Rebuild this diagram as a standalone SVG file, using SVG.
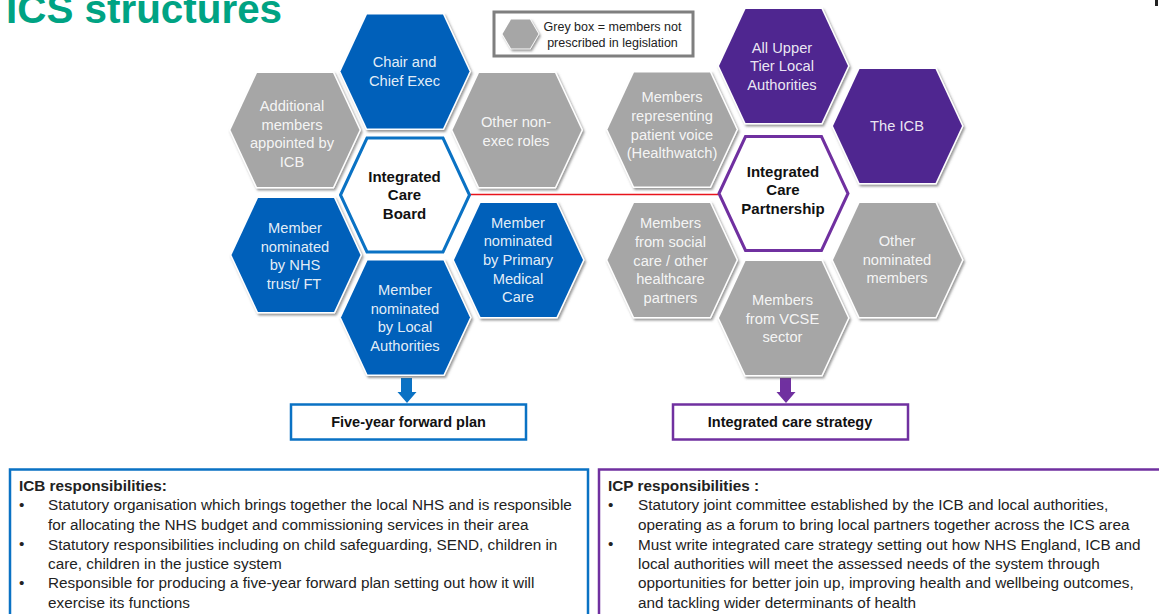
<svg xmlns="http://www.w3.org/2000/svg" width="1159" height="614" viewBox="0 0 1159 614">
<style>
text{font-family:"Liberation Sans",Arial,sans-serif}
.h{stroke:#fff;stroke-width:3;paint-order:stroke;filter:url(#s)}
.blue{fill:#0060BA}.grey{fill:#A6A6A6}.purple{fill:#4F2790}
.t{font-size:14.700px;fill:#fff;text-anchor:middle;fill-opacity:.9}
.b{font-size:15px;font-weight:bold;fill:#111;text-anchor:middle}
.p{font-size:15.300px;fill:#222}
.pb{font-size:15.300px;fill:#222;font-weight:bold}
</style>
<defs>
<polygon id="hex" points="-64.500,0 -38,-57 38,-57 64.500,0 38,57 -38,57"/>
<filter id="s" x="-15%" y="-15%" width="130%" height="130%"><feDropShadow dx="1.500" dy="2" stdDeviation="1.200" flood-color="#555" flood-opacity=".6"/></filter>
</defs>
<rect width="1159" height="614" fill="#fff"/>
<text x="6" y="23" font-size="40.400" font-weight="bold" fill="#00A383">ICS structures</text>
<rect x="1155" y="0" width="3" height="6" fill="#222"/>

<g id="connectors">
<line x1="470" y1="194.500" x2="718" y2="194.500" stroke="#E8141C" stroke-width="1.500"/>
<path d="M401,378h11v14h4.500l-9.500,11l-9.500,-11h3.500z" fill="#0A72C4"/>
<path d="M780,378h11v14h4.500l-9.500,11l-9.500,-11h3.500z" fill="#7030A0"/>
</g>

<g id="legend">
<rect x="494" y="12" width="199" height="44" fill="#fff" stroke="#7F7F7F" stroke-width="3"/>
<polygon points="502.500,34 511,19.500 530,19.500 538.500,34 530,48.500 511,48.500" class="grey h" style="stroke-width:1.500"/>
<text x="612.500" y="31" font-size="12.500" text-anchor="middle" fill="#222">Grey box = members not</text>
<text x="612.500" y="47" font-size="12.500" text-anchor="middle" fill="#222">prescribed in legislation</text>
</g>

<g id="chair"><use href="#hex" x="405" y="71.500" class="h blue"/><text class="t" x="404.500" y="67">Chair and</text><text class="t" x="404.500" y="86">Chief Exec</text></g>
<g id="additional"><use href="#hex" x="295" y="130" class="h grey"/><text class="t" x="292" y="111">Additional</text><text class="t" x="292" y="130">members</text><text class="t" x="292" y="148">appointed by</text><text class="t" x="292" y="167">ICB</text></g>
<g id="other-non-exec"><use href="#hex" x="517" y="130" class="h grey"/><text class="t" x="516" y="127">Other non-</text><text class="t" x="516" y="146">exec roles</text></g>
<g id="icb"><use href="#hex" x="405" y="195" fill="#fff" stroke="#0A72C4" stroke-width="3"/><text class="b" x="404.500" y="181.500">Integrated</text><text class="b" x="404.500" y="200">Care</text><text class="b" x="404.500" y="218.500">Board</text></g>
<g id="nhs"><use href="#hex" x="296" y="255" class="h blue"/><text class="t" x="295" y="233">Member</text><text class="t" x="295" y="252">nominated</text><text class="t" x="295" y="270">by NHS</text><text class="t" x="294" y="289">trust/ FT</text></g>
<g id="primary"><use href="#hex" x="518.500" y="260" class="h blue"/><text class="t" x="518" y="227.500">Member</text><text class="t" x="518" y="246">nominated</text><text class="t" x="518" y="265">by Primary</text><text class="t" x="518" y="283.500">Medical</text><text class="t" x="518" y="302">Care</text></g>
<g id="local"><use href="#hex" x="405.500" y="317.500" class="h blue"/><text class="t" x="405" y="295">Member</text><text class="t" x="405" y="314">nominated</text><text class="t" x="405" y="332">by Local</text><text class="t" x="405" y="351">Authorities</text></g>

<g id="upper"><use href="#hex" x="783.500" y="66" class="h purple"/><text class="t" x="782" y="52.500">All Upper</text><text class="t" x="782" y="71">Tier Local</text><text class="t" x="782" y="90">Authorities</text></g>
<g id="the-icb"><use href="#hex" x="897.500" y="126" class="h purple"/><text class="t" x="897" y="131">The ICB</text></g>
<g id="healthwatch"><use href="#hex" x="672" y="129.500" class="h grey"/><text class="t" x="672" y="102">Members</text><text class="t" x="672" y="121">representing</text><text class="t" x="672" y="140">patient voice</text><text class="t" x="672" y="158">(Healthwatch)</text></g>
<g id="icp"><use href="#hex" x="783.500" y="193.500" fill="#fff" stroke="#7030A0" stroke-width="3"/><text class="b" x="783" y="176.500">Integrated</text><text class="b" x="783" y="195">Care</text><text class="b" x="783" y="213.500">Partnership</text></g>
<g id="social"><use href="#hex" x="672" y="260" class="h grey"/><text class="t" x="670.500" y="228">Members</text><text class="t" x="670.500" y="247">from social</text><text class="t" x="670.500" y="266">care / other</text><text class="t" x="670.500" y="284">healthcare</text><text class="t" x="670.500" y="303">partners</text></g>
<g id="other-nominated"><use href="#hex" x="897.500" y="260" class="h grey"/><text class="t" x="897" y="246">Other</text><text class="t" x="897" y="265">nominated</text><text class="t" x="897" y="283">members</text></g>
<g id="vcse"><use href="#hex" x="783.500" y="318" class="h grey"/><text class="t" x="782.500" y="305">Members</text><text class="t" x="782.500" y="324">from VCSE</text><text class="t" x="782.500" y="342">sector</text></g>

<g id="five-year-plan"><rect x="291" y="404.500" width="235" height="35" fill="#fff" stroke="#0A72C4" stroke-width="2.500"/><text class="b" x="408.500" y="427" style="font-size:14.500px">Five-year forward plan</text></g>
<g id="care-strategy"><rect x="673" y="404.500" width="235" height="35" fill="#fff" stroke="#7030A0" stroke-width="2.500"/><text class="b" x="790" y="427" style="font-size:14.500px">Integrated care strategy</text></g>

<g id="icb-responsibilities">
<rect x="10" y="469.500" width="578" height="160" fill="#fff" stroke="#0A72C4" stroke-width="2.500"/>
<text class="pb" x="19" y="491">ICB responsibilities:</text>
<text class="p" x="19" y="510">•</text><text class="p" x="48" y="510">Statutory organisation which brings together the local NHS and is responsible</text>
<text class="p" x="48" y="530">for allocating the NHS budget and commissioning services in their area</text>
<text class="p" x="19" y="549">•</text><text class="p" x="48" y="550">Statutory responsibilities including on child safeguarding, SEND, children in</text>
<text class="p" x="48" y="569">care, children in the justice system</text>
<text class="p" x="19" y="588">•</text><text class="p" x="48" y="588">Responsible for producing a five-year forward plan setting out how it will</text>
<text class="p" x="48" y="608">exercise its functions</text>
</g>
<g id="icp-responsibilities">
<rect x="599" y="469.500" width="600" height="160" fill="#fff" stroke="#7030A0" stroke-width="2.500"/>
<text class="pb" x="608" y="491">ICP responsibilities :</text>
<text class="p" x="608" y="510">•</text><text class="p" x="638" y="510">Statutory joint committee established by the ICB and local authorities,</text>
<text class="p" x="638" y="530">operating as a forum to bring local partners together across the ICS area</text>
<text class="p" x="608" y="549">•</text><text class="p" x="638" y="550">Must write integrated care strategy setting out how NHS England, ICB and</text>
<text class="p" x="638" y="569">local authorities will meet the assessed needs of the system through</text>
<text class="p" x="638" y="588">opportunities for better join up, improving health and wellbeing outcomes,</text>
<text class="p" x="638" y="608">and tackling wider determinants of health</text>
</g>
</svg>
